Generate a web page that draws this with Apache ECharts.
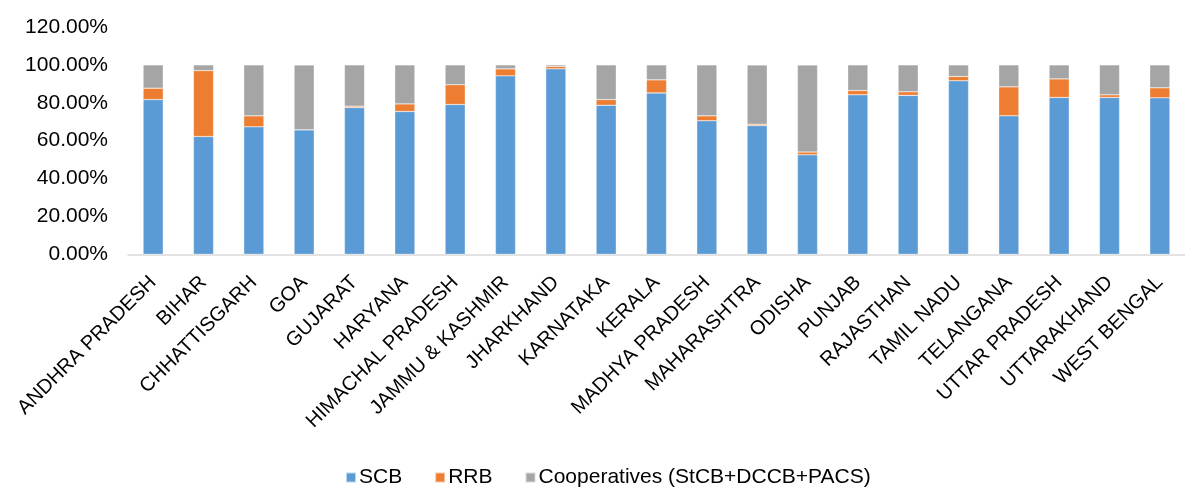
<!DOCTYPE html>
<html>
<head>
<meta charset="utf-8">
<script src="https://cdn.jsdelivr.net/npm/echarts@6/dist/echarts.min.js"></script>
<style>
html,body{margin:0;padding:0;background:#fff;}
#chart{width:1185px;height:487px;}
</style>
</head>
<body>
<div id="chart"></div>
<script>
const categories = ["ANDHRA PRADESH","BIHAR","CHHATTISGARH","GOA","GUJARAT","HARYANA","HIMACHAL PRADESH","JAMMU & KASHMIR","JHARKHAND","KARNATAKA","KERALA","MADHYA PRADESH","MAHARASHTRA","ODISHA","PUNJAB","RAJASTHAN","TAMIL NADU","TELANGANA","UTTAR PRADESH","UTTARAKHAND","WEST BENGAL"];
const scb  = [81.7,62.2,67.3,65.7,77.5,75.4,79.1,94.2,97.9,78.7,85.2,70.5,68.0,52.5,84.2,83.9,91.6,73.1,82.8,82.8,82.6];
const rrb  = [6.0,34.8,5.8,0.0,0.7,4.0,10.4,3.7,1.3,3.0,6.9,2.6,0.7,1.5,2.3,1.9,2.3,15.3,9.8,1.4,5.3];
const coop = [12.3,3.0,26.9,34.3,21.8,20.6,10.5,2.1,0.8,18.3,7.9,26.9,31.3,46.0,13.5,14.2,6.1,11.6,7.4,15.8,12.1];
const seriesNames = ["SCB","RRB","Cooperatives (StCB+DCCB+PACS)"];
const colors = ["#5B9BD5","#ED7D31","#A5A5A5"];

const font = "'Liberation Sans', Arial, sans-serif";
const chart = echarts.init(document.getElementById('chart'), null, {renderer:'canvas'});
const mk = (name, data, color) => ({
  name, type:'bar', stack:'total', data, barWidth:'40%',
  itemStyle:{color, borderColor:'rgba(255,255,255,0.6)', borderWidth:0.5},
  emphasis:{disabled:true}
});
chart.setOption({
  animation:false,
  textStyle:{fontFamily:font},
  grid:{left:128, top:27, width:1069, bottom:232.7, containLabel:false},
  legend:{
    data:seriesNames, left:340, top:462, itemWidth:10, itemHeight:10, itemGap:32,
    icon:'rect',
    textStyle:{fontSize:21, color:'#000', fontFamily:font, padding:[0,0,0,-2]}
  },
  xAxis:{
    type:'category', data:categories,
    axisLine:{lineStyle:{color:'#D9D9D9', width:1.5}},
    axisTick:{show:false},
    axisLabel:{interval:0, rotate:45, fontSize:20, color:'#000', margin:25, fontFamily:font}
  },
  yAxis:{
    type:'value', min:0, max:120, interval:20,
    axisLine:{show:false}, axisTick:{show:false},
    splitLine:{show:false},
    axisLabel:{fontSize:21, color:'#000', margin:20, fontFamily:font,
      formatter:v=>v.toFixed(2)+'%'}
  },
  series:[mk(seriesNames[0],scb,colors[0]), mk(seriesNames[1],rrb,colors[1]), mk(seriesNames[2],coop,colors[2])]
});
</script>
</body>
</html>
